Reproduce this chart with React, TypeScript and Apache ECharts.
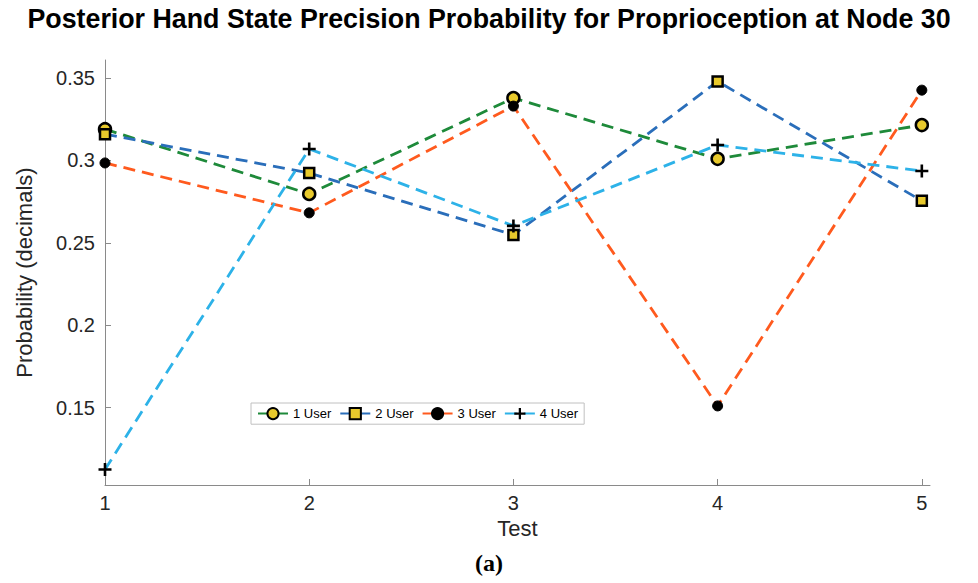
import React, { useEffect, useRef } from "react";
import * as echarts from "echarts";

const tests = [1, 2, 3, 4, 5];
const user1 = [0.319, 0.2797, 0.3379, 0.301, 0.3215];
const user2 = [0.316, 0.2924, 0.2548, 0.348, 0.2755];
const user3 = [0.2985, 0.2682, 0.333, 0.151, 0.3427];
const user4 = [0.1124, 0.307, 0.2603, 0.3094, 0.2936];
const seriesNames = ["1 User", "2 User", "3 User", "4 User"];
const yTicks = [0.15, 0.2, 0.25, 0.3, 0.35];

const PLUS = "path://M-1.2,-6H1.2V-1.2H6V1.2H1.2V6H-1.2V1.2H-6V-1.2H-1.2Z";

export default function App() {
  const ref = useRef<HTMLDivElement>(null);
  useEffect(() => {
    if (!ref.current) return;
    const chart = echarts.init(ref.current, undefined, { renderer: "svg" });
    const font = "Liberation Sans, Arial, sans-serif";
    const mk = (vals: number[]) => tests.map((t, i) => [t, vals[i]]);
    const dash = [12, 7];
    const base = (name: string, vals: number[], color: string, symbol: string, size: number, fill: string, border: string, bw: number) => ({
      name,
      type: "line",
      data: mk(vals),
      symbol,
      symbolSize: size,
      showAllSymbol: true,
      lineStyle: { color, width: 2.8, type: dash },
      itemStyle: { color: fill, borderColor: border, borderWidth: bw },
      emphasis: { disabled: true },
      z: 3,
    });
    chart.setOption({
      animation: false,
      backgroundColor: "#ffffff",
      title: {
        text: "Posterior Hand State Precision Probability for Proprioception at Node 30",
        left: "center",
        top: 0,
        textStyle: { fontFamily: font, fontSize: 26.8, fontWeight: "bold", color: "#000" },
      },
      legend: {
        left: 251,
        top: 403,
        orient: "horizontal",
        itemWidth: 30,
        itemHeight: 14,
        itemGap: 8,
        padding: [4, 6, 4, 6],
        borderColor: "#c0c0c0",
        borderWidth: 1,
        textStyle: { fontFamily: font, fontSize: 13, color: "#000" },
        data: seriesNames,
      },
      grid: { left: 105, right: 48, top: 60, bottom: 98, containLabel: false },
      xAxis: {
        type: "value",
        min: 1,
        max: 5.04,
        name: "Test",
        nameLocation: "middle",
        nameGap: 26,
        nameTextStyle: { fontFamily: font, fontSize: 22, color: "#262626" },
        axisLine: { lineStyle: { color: "#8a8a8a", width: 1 } },
        axisTick: { inside: true, length: 6, customValues: tests, lineStyle: { color: "#8a8a8a" } },
        axisLabel: { customValues: tests, fontFamily: font, fontSize: 20, color: "#262626", margin: 8 },
        splitLine: { show: false },
      },
      yAxis: {
        type: "value",
        min: 0.103,
        max: 0.361,
        name: "Probability (decimals)",
        nameLocation: "middle",
        nameGap: 70,
        nameTextStyle: { fontFamily: font, fontSize: 22, color: "#262626" },
        axisLine: { show: true, lineStyle: { color: "#8a8a8a", width: 1 } },
        axisTick: { show: true, inside: true, length: 6, customValues: yTicks, lineStyle: { color: "#8a8a8a" } },
        axisLabel: { customValues: yTicks, fontFamily: font, fontSize: 20, color: "#262626", margin: 10 },
        splitLine: { show: false },
      },
      graphic: [
        {
          type: "text",
          left: "center",
          top: 551,
          style: { text: "(a)", font: "bold 24px 'Liberation Serif', 'Times New Roman', serif", fill: "#000" },
        },
      ],
      series: [
        base("1 User", user1, "#1e8a3a", "circle", 12, "#e8c92c", "#000", 2.5),
        base("2 User", user2, "#2a6eba", "rect", 10, "#e8c92c", "#000", 2.5),
        base("3 User", user3, "#ff5a1e", "circle", 10, "#000", "#000", 1),
        base("4 User", user4, "#2db2e8", PLUS, 13, "#000", "#000", 0),
      ],
    });
    return () => chart.dispose();
  }, []);
  return <div ref={ref} style={{ position: "fixed", left: 0, top: 0, width: 978, height: 583 }} />;
}
